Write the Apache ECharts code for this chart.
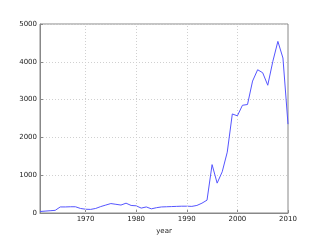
<!DOCTYPE html>
<html><head><meta charset="utf-8">
<script src="https://cdn.jsdelivr.net/npm/echarts@6/dist/echarts.min.js"></script>
<style>html,body{margin:0;padding:0;background:#fff}#c{width:320px;height:240px}</style>
</head><body><div id="c"></div>
<script>
const years = [1961,1962,1963,1964,1965,1966,1967,1968,1969,1970,1971,1972,1973,1974,1975,1976,1977,1978,1979,1980,1981,1982,1983,1984,1985,1986,1987,1988,1989,1990,1991,1992,1993,1994,1995,1996,1997,1998,1999,2000,2001,2002,2003,2004,2005,2006,2007,2008,2009,2010];
const values = [40,50,60,70,160,160,165,165,120,100,95,120,170,210,250,230,210,260,200,190,130,160,110,140,160,165,170,175,180,180,175,200,260,340,1280,790,1090,1610,2620,2570,2850,2870,3490,3790,3710,3380,4010,4540,4100,2350];
const xTicks = [1970,1980,1990,2000,2010];
const yMax = 5000, yStep = 1000;
const xLabel = 'year';

const chart = echarts.init(document.getElementById('c'));
const font = 'DejaVu Sans';
chart.setOption({
  animation: false,
  grid: {left: 40, right: 32, top: 24, bottom: 25, show: true, borderColor: '#888', borderWidth: 1, backgroundColor: 'transparent'},
  xAxis: {
    type: 'value', min: years[0], max: years[years.length-1],
    name: xLabel, nameLocation: 'middle', nameGap: 15,
    nameTextStyle: {fontFamily: font, fontSize: 7, color: '#222'},
    axisLine: {show: true, lineStyle: {color: '#888'}},
    axisTick: {show: true, inside: true, length: 3, customValues: xTicks, lineStyle: {color: '#888'}},
    axisLabel: {customValues: xTicks, formatter: v => String(v), fontFamily: font, fontSize: 7, color: '#222', margin: 3},
    splitLine: {show: false}
  },
  yAxis: {
    type: 'value', min: 0, max: yMax, interval: yStep,
    axisLine: {show: true, lineStyle: {color: '#888'}},
    axisTick: {show: true, inside: true, length: 3, lineStyle: {color: '#888'}},
    axisLabel: {formatter: v => String(v), fontFamily: font, fontSize: 7, color: '#222', margin: 3},
    splitLine: {show: true, lineStyle: {color: '#d0d0d0', type: [1, 2], width: 1}}
  },
  series: [{
    type: 'line', data: years.map((y, i) => [y, values[i]]),
    showSymbol: false, symbol: 'none',
    lineStyle: {color: '#5555ff', width: 1},
    markLine: {
      silent: true, symbol: 'none', label: {show: false},
      lineStyle: {color: '#d0d0d0', type: [1, 2], width: 1},
      data: xTicks.slice(0, -1).map(v => ({xAxis: v}))
    }
  }]
});
</script></body></html>
